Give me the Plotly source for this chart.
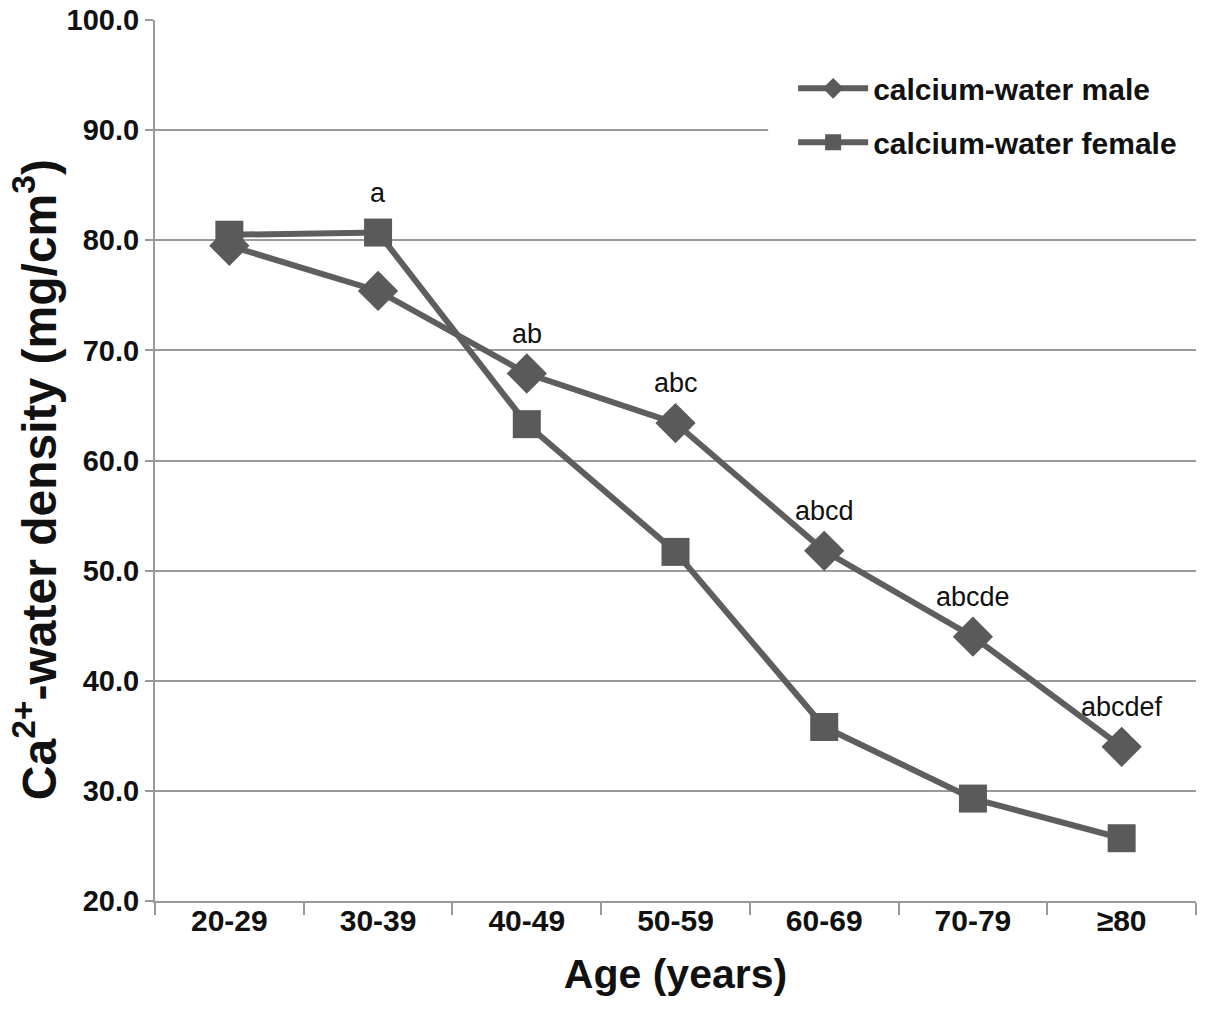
import plotly.graph_objects as go

categories = ["20-29", "30-39", "40-49", "50-59", "60-69", "70-79", "≥80"]
male = [79.5, 75.4, 67.9, 63.4, 51.8, 44.0, 34.0]
female = [80.5, 80.7, 63.3, 51.7, 35.8, 29.3, 25.7]
sig_labels = ["", "a", "ab", "abc", "abcd", "abcde", "abcdef"]
y_ticks = [20, 30, 40, 50, 60, 70, 80, 90, 100]

FONT = "Arial, Liberation Sans, sans-serif"
LINE = "#5e5e5e"
GRID = "#9a9a9a"

fig = go.Figure()
fig.add_trace(go.Scatter(
    x=categories, y=male, name="<b>calcium-water male</b>", mode="lines+markers",
    legendgroup="m",
    line=dict(color=LINE, width=6),
    marker=dict(symbol="diamond", size=31, color="#5a5a5a"),
))
fig.add_trace(go.Scatter(
    x=categories, y=female, name="<b>calcium-water female</b>", mode="lines+markers",
    legendgroup="f",
    line=dict(color=LINE, width=6),
    marker=dict(symbol="square", size=28, color="#5a5a5a"),
))

for c, m, f, lab in zip(categories, male, female, sig_labels):
    if lab:
        fig.add_annotation(x=c, y=max(m, f), text=lab, showarrow=False,
                           yshift=40, font=dict(family=FONT, size=27, color="#111"))

# y-axis title placed as a rotated annotation
fig.add_annotation(xref="paper", yref="paper", x=-0.115, y=0.478,
                   xanchor="center", yanchor="middle",
                   text="<b>Ca<sup>2+</sup>-water density (mg/cm<sup>3</sup>)</b>",
                   textangle=-90, showarrow=False,
                   font=dict(family=FONT, size=48, color="#111"))

# white panel behind the legend (covers the gridline like the original)
fig.add_shape(type="rect", xref="paper", yref="paper",
              x0=0.589, x1=1.0, y0=0.82, y1=0.955,
              fillcolor="white", line=dict(width=0), layer="above")

fig.update_layout(
    width=1211, height=1009, autosize=False,
    margin=dict(l=155, r=15, t=20, b=108),
    paper_bgcolor="white", plot_bgcolor="white",
    font=dict(family=FONT, color="#111"),
    showlegend=True,
    legend=dict(x=0.613, y=0.952, xanchor="left", yanchor="top",
                bgcolor="rgba(0,0,0,0)", font=dict(family=FONT, size=30, color="#111"),
                itemsizing="trace", tracegroupgap=12, itemwidth=70),
    xaxis=dict(
        type="category", range=[-0.5, 6.5], automargin=False,
        showgrid=False, showline=True, linecolor=GRID, linewidth=2,
        ticks="outside", tickson="boundaries", ticklen=12, tickwidth=2, tickcolor=GRID,
        ticklabelstandoff=-8,
        tickfont=dict(family=FONT, size=30, color="#111", weight="bold"),
        title=dict(text="<b>Age (years)</b>", font=dict(family=FONT, size=41, color="#111"),
                   standoff=23),
    ),
    yaxis=dict(
        range=[20, 100], tickvals=y_ticks, tickformat=".1f", automargin=False,
        showgrid=True, gridcolor=GRID, gridwidth=2,
        showline=True, linecolor=GRID, linewidth=2,
        ticks="outside", ticklen=8, tickwidth=2, tickcolor=GRID,
        tickfont=dict(family=FONT, size=29, color="#111", weight="bold"),
        zeroline=False,
    ),
)

fig.write_html("out.html", config={"displayModeBar": False},
               post_script="document.body.style.margin='0';")
